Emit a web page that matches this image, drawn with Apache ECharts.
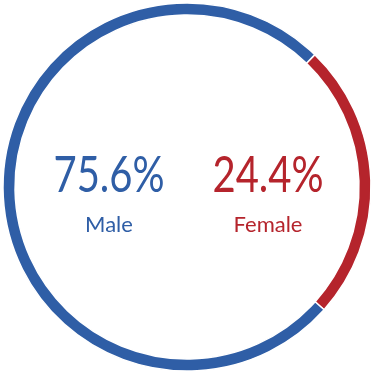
<!DOCTYPE html>
<html><head><meta charset="utf-8">
<script src="https://cdn.jsdelivr.net/npm/echarts@6/dist/echarts.min.js"></script>
<style>html,body{margin:0;padding:0;background:#fff}#c{width:375px;height:375px}</style>
</head><body><div id="c"></div>
<script>
var categories = ['Female', 'Male'];
var values = [24.4, 75.6];
var colors = ['#b5242c', '#2f5ea6'];
var chart = echarts.init(document.getElementById('c'));
var font = 'Lato, "Noto Sans", sans-serif';
chart.setOption({
  animation: false,
  series: [{
    type: 'pie',
    center: [187, 187],
    radius: [172, 184],
    startAngle: 46,
    clockwise: true,
    label: {show: false},
    labelLine: {show: false},
    itemStyle: {borderColor: '#fff', borderWidth: 1.5},
    data: categories.map(function (c, i) { return {name: c, value: values[i], itemStyle: {color: colors[i]}}; })
  }],
  graphic: [
    {type: 'text', x: 109, y: 176, scaleX: 0.8, style: {text: values[1].toFixed(1) + '%', font: '400 50px ' + font, fill: colors[1], align: 'center', verticalAlign: 'middle'}},
    {type: 'text', x: 109, y: 225, style: {text: categories[1], font: '400 22px ' + font, fill: colors[1], align: 'center', verticalAlign: 'middle'}},
    {type: 'text', x: 268, y: 176, scaleX: 0.8, style: {text: values[0].toFixed(1) + '%', font: '400 50px ' + font, fill: colors[0], align: 'center', verticalAlign: 'middle'}},
    {type: 'text', x: 268, y: 225, style: {text: categories[0], font: '400 22px ' + font, fill: colors[0], align: 'center', verticalAlign: 'middle'}}
  ]
});
</script></body></html>
